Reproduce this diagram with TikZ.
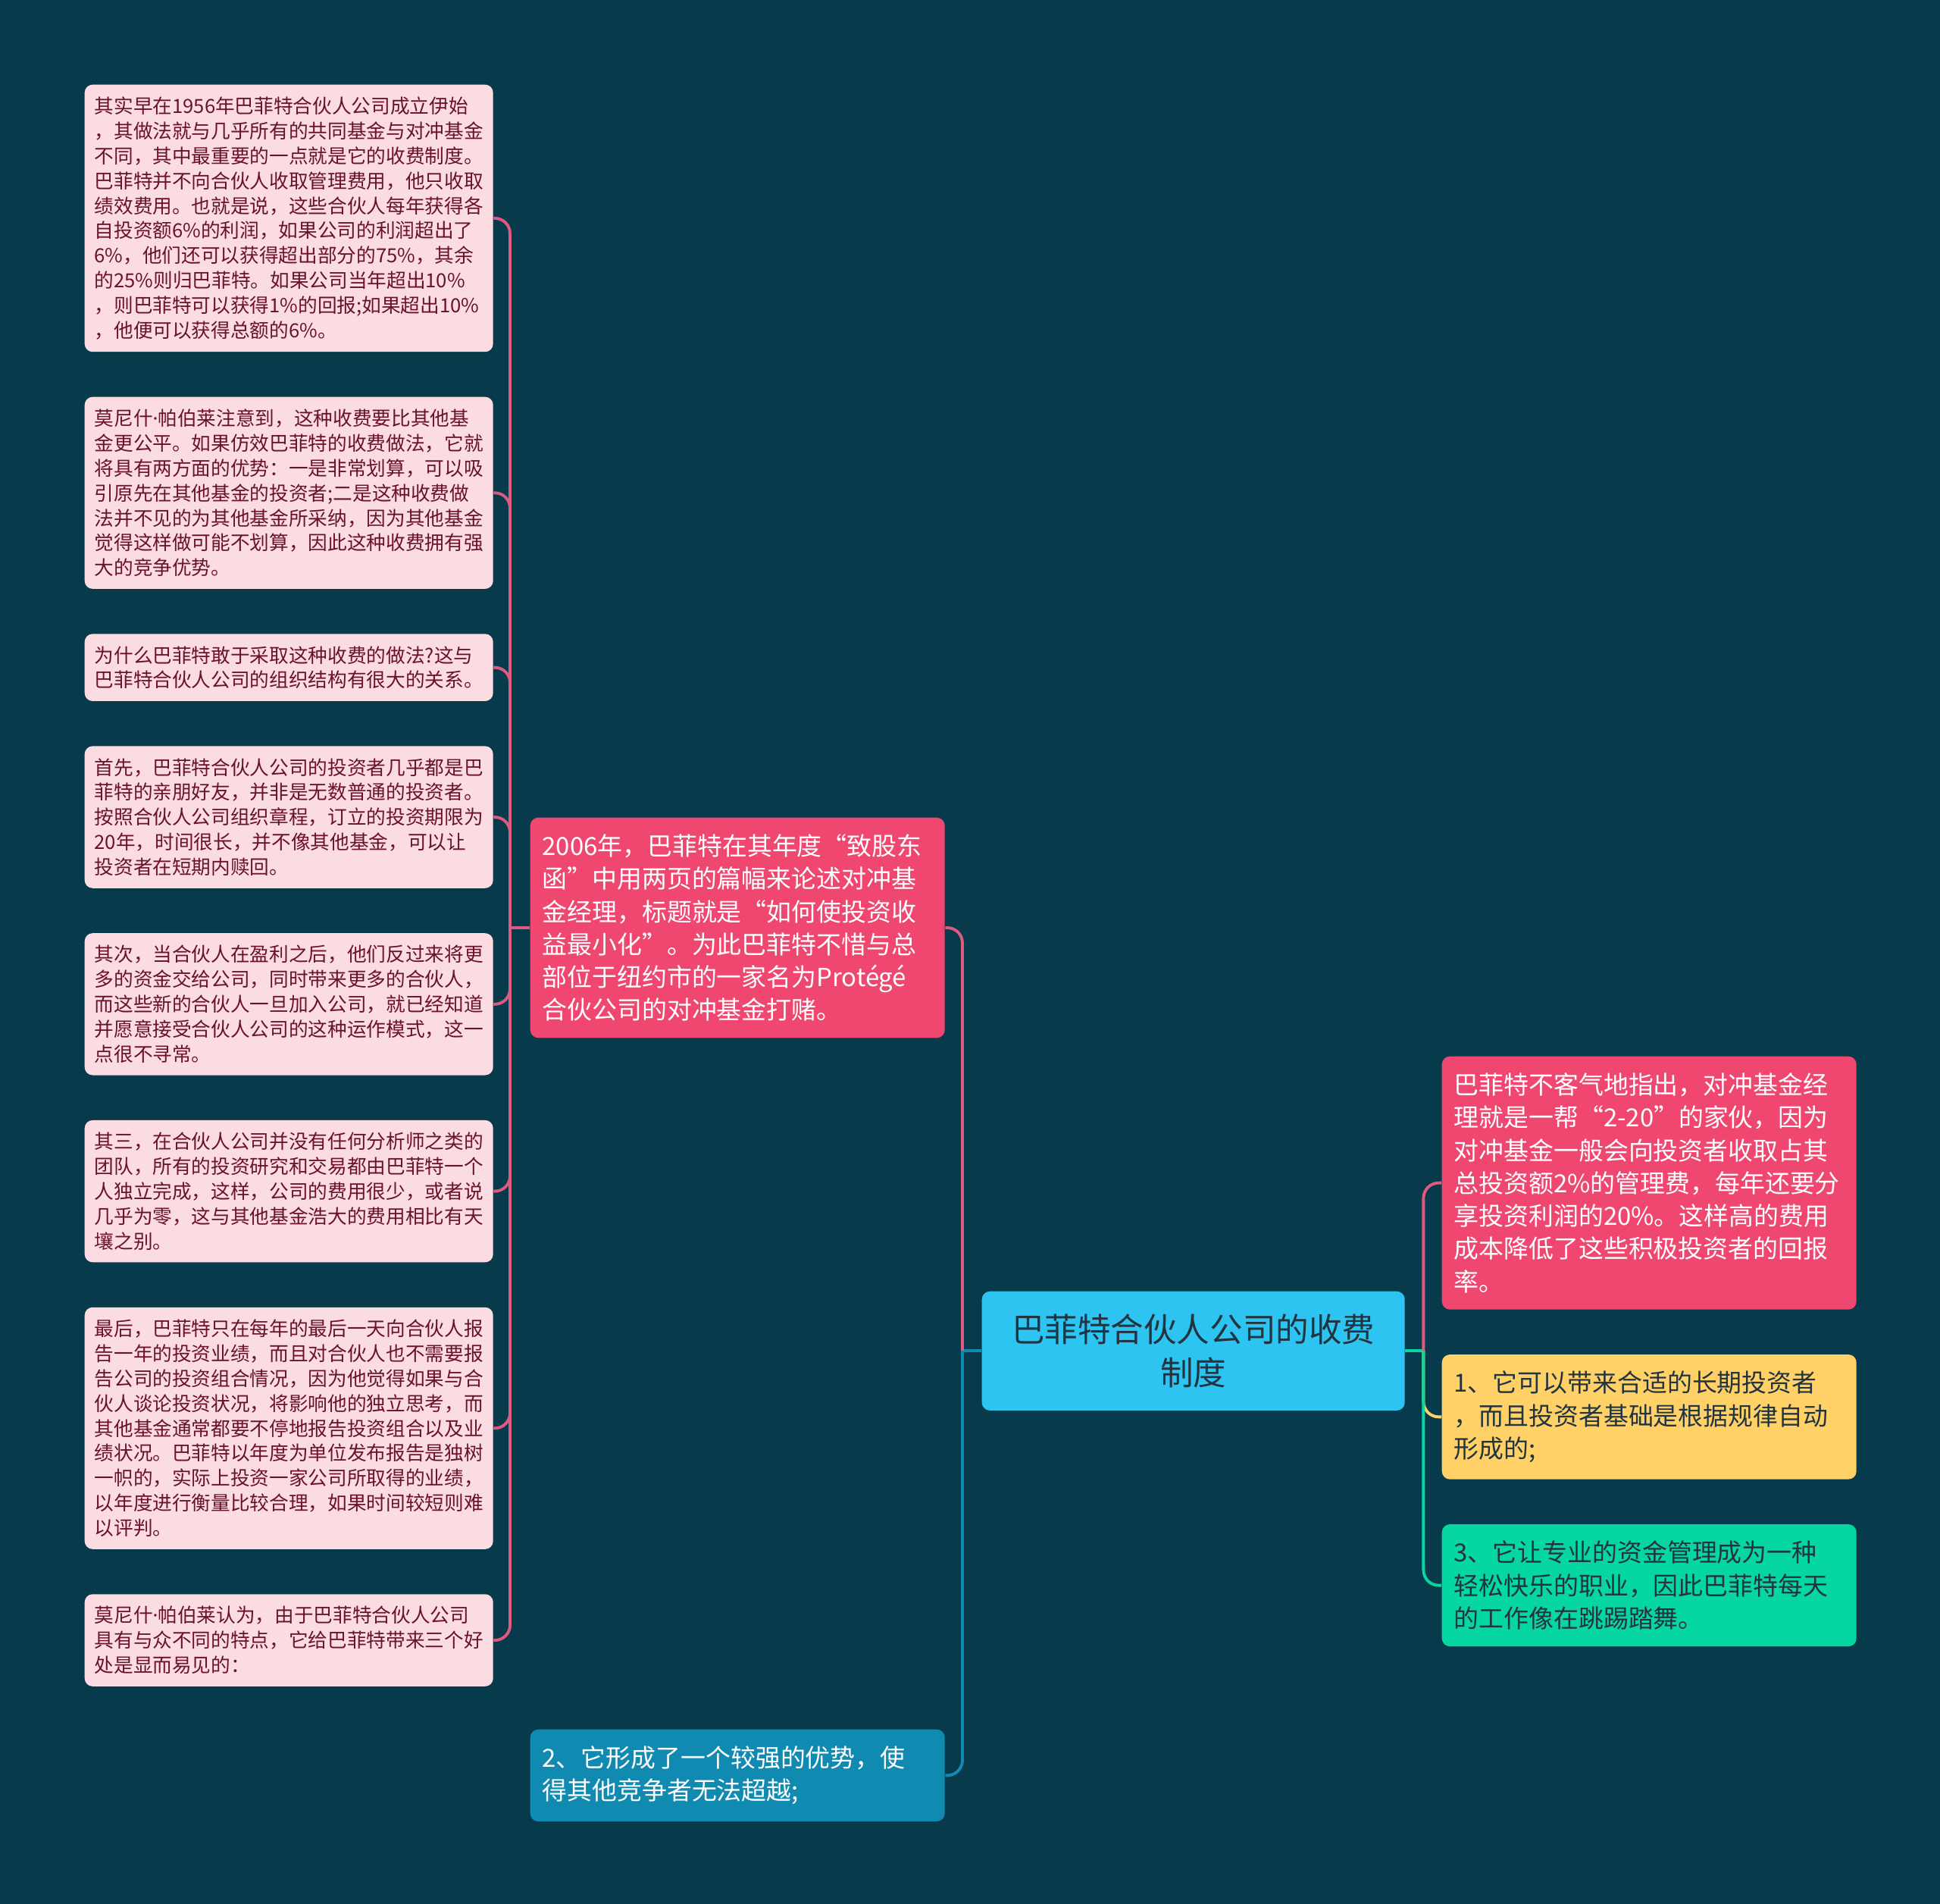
\documentclass[tikz,border=0pt]{standalone}
\usepackage{fontspec}
\setmainfont{Noto Sans CJK SC}
\newfontfamily\latinf{Noto Sans}
\usetikzlibrary{positioning}
\definecolor{mapbg}{HTML}{073B4C}
\definecolor{mappink}{HTML}{EF476F}
\definecolor{mappale}{HTML}{FCDCE3}
\definecolor{mapwine}{HTML}{6A1328}
\definecolor{mapsky}{HTML}{2EC4F1}
\definecolor{mapsun}{HTML}{FFD166}
\definecolor{mapmint}{HTML}{06D6A0}
\definecolor{mapsea}{HTML}{118AB2}
\definecolor{mapink}{HTML}{213440}
\definecolor{maprose}{HTML}{DD5A82}
\newcommand{\mdot}{{\latinf ·}}
\tikzset{
  leaf/.style={rectangle, rounded corners=3pt, fill=mappale, text=mapwine, align=left,
               text width=5.13cm, inner xsep=0.13cm, inner ysep=0.16cm,
               font=\fontsize{7.3pt}{9.36pt}\selectfont},
  topic/.style={rectangle, rounded corners=3pt, align=left, text width=5.15cm,
               inner xsep=0.16cm, inner ysep=0.22cm, font=\fontsize{9.36pt}{12.3pt}\selectfont},
  root/.style={rectangle, rounded corners=3pt, fill=mapsky, text=mapink, align=center,
               text width=4.9cm, inner xsep=0.34cm, inner ysep=0.3cm,
               font=\fontsize{12.4pt}{16.2pt}\selectfont},
  lnk/.style={line width=1.1pt},
}
\begin{document}
\begin{tikzpicture}[node distance=5.8mm]
  \useasboundingbox[fill=mapbg] (0,0) rectangle (25.6,-25.12);
  % left column
  \node[leaf, anchor=north west] (l1) at (1.11,-1.11) {其实早在1956年巴菲特合伙人公司成立伊始\\，其做法就与几乎所有的共同基金与对冲基金\\不同，其中最重要的一点就是它的收费制度。\\巴菲特并不向合伙人收取管理费用，他只收取\\绩效费用。也就是说，这些合伙人每年获得各\\自投资额6\%的利润，如果公司的利润超出了\\6\%，他们还可以获得超出部分的75\%，其余\\的25\%则归巴菲特。如果公司当年超出10\%\\，则巴菲特可以获得1\%的回报;如果超出10\%\\，他便可以获得总额的6\%。};
  \node[leaf, below=of l1] (l2) {莫尼什\mdot 帕伯莱注意到，这种收费要比其他基\\金更公平。如果仿效巴菲特的收费做法，它就\\将具有两方面的优势：一是非常划算，可以吸\\引原先在其他基金的投资者;二是这种收费做\\法并不见的为其他基金所采纳，因为其他基金\\觉得这样做可能不划算，因此这种收费拥有强\\大的竞争优势。};
  \node[leaf, below=of l2] (l3) {为什么巴菲特敢于采取这种收费的做法?这与\\巴菲特合伙人公司的组织结构有很大的关系。};
  \node[leaf, below=of l3] (l4) {首先，巴菲特合伙人公司的投资者几乎都是巴\\菲特的亲朋好友，并非是无数普通的投资者。\\按照合伙人公司组织章程，订立的投资期限为\\20年，时间很长，并不像其他基金，可以让\\投资者在短期内赎回。};
  \node[leaf, below=of l4] (l5) {其次，当合伙人在盈利之后，他们反过来将更\\多的资金交给公司，同时带来更多的合伙人，\\而这些新的合伙人一旦加入公司，就已经知道\\并愿意接受合伙人公司的这种运作模式，这一\\点很不寻常。};
  \node[leaf, below=of l5] (l6) {其三，在合伙人公司并没有任何分析师之类的\\团队，所有的投资研究和交易都由巴菲特一个\\人独立完成，这样，公司的费用很少，或者说\\几乎为零，这与其他基金浩大的费用相比有天\\壤之别。};
  \node[leaf, below=of l6] (l7) {最后，巴菲特只在每年的最后一天向合伙人报\\告一年的投资业绩，而且对合伙人也不需要报\\告公司的投资组合情况，因为他觉得如果与合\\伙人谈论投资状况，将影响他的独立思考，而\\其他基金通常都要不停地报告投资组合以及业\\绩状况。巴菲特以年度为单位发布报告是独树\\一帜的，实际上投资一家公司所取得的业绩，\\以年度进行衡量比较合理，如果时间较短则难\\以评判。};
  \node[leaf, below=of l7] (l8) {莫尼什\mdot 帕伯莱认为，由于巴菲特合伙人公司\\具有与众不同的特点，它给巴菲特带来三个好\\处是显而易见的：};
  % middle column
  \node[topic, fill=mappink, text=white, anchor=north west] (fee06) at (6.99,-10.78) {2006年，巴菲特在其年度“致股东\\函”中用两页的篇幅来论述对冲基\\金经理，标题就是“如何使投资收\\益最小化”。为此巴菲特不惜与总\\部位于纽约市的一家名为Protégé\\合伙公司的对冲基金打赌。};
  \node[root, anchor=north west] (fee) at (12.95,-17.03) {巴菲特合伙人公司的收费\\制度};
  \node[topic, fill=mapsea, text=white, anchor=north west] (adv2) at (6.99,-22.81) {2、它形成了一个较强的优势，使\\得其他竞争者无法超越;};
  % right column
  \node[topic, fill=mappink, text=white, anchor=north west] (r1) at (19.02,-13.93) {巴菲特不客气地指出，对冲基金经\\理就是一帮“2-20”的家伙，因为\\对冲基金一般会向投资者收取占其\\总投资额2\%的管理费，每年还要分\\享投资利润的20\%。这样高的费用\\成本降低了这些积极投资者的回报\\率。};
  \node[topic, fill=mapsun, text=mapink, below=of r1] (r2) {1、它可以带来合适的长期投资者\\，而且投资者基础是根据规律自动\\形成的;};
  \node[topic, fill=mapmint, text=mapink, below=of r2] (r3) {3、它让专业的资金管理成为一种\\轻松快乐的职业，因此巴菲特每天\\的工作像在跳踢踏舞。};
  % connectors
  \coordinate (tl) at ([xshift=-2.6mm]fee06.west);
  \coordinate (tm) at ([xshift=-2.5mm]fee.west);
  \coordinate (tr) at ([xshift=2.4mm]fee.east);
  \draw[lnk, maprose] (fee06.west) -- (tl);
  \foreach \n in {1,...,8}
    \draw[lnk, maprose, rounded corners=2mm] (tl) |- (l\n.east);
  \draw[lnk, mapsea] (fee.west) -- (tm);
  \draw[lnk, maprose, rounded corners=2mm] (tm) |- (fee06.east);
  \draw[lnk, mapsea, rounded corners=2mm] (tm) |- (adv2.east);
  \draw[lnk, mapmint] (fee.east) -- (tr);
  \draw[lnk, maprose, rounded corners=2mm] (tr) |- (r1.west);
  \draw[lnk, mapsun, rounded corners=2mm] (tr) |- (r2.west);
  \draw[lnk, mapmint, rounded corners=2mm] (tr) |- (r3.west);
\end{tikzpicture}
\end{document}
